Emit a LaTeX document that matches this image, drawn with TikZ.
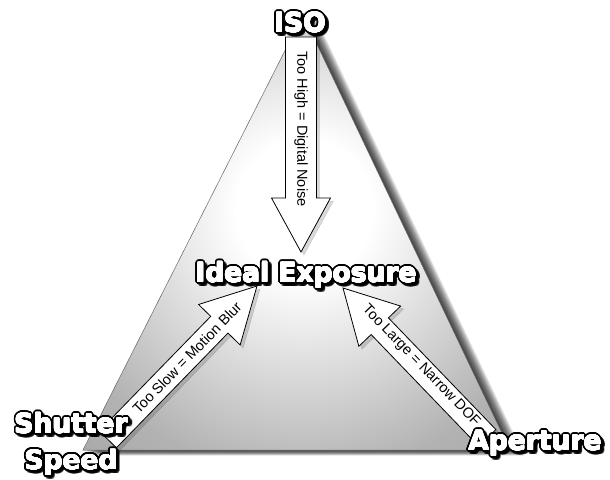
\documentclass[tikz,border=0pt]{standalone}
\usepackage{fontspec}
\setmainfont{Liberation Sans}
\newfontfamily\labfont{DejaVu Sans}
\usepackage{contour}
\usetikzlibrary{calc}
\pgfdeclareradialshading{tri}{\pgfpoint{1bp}{3bp}}{color(0bp)=(white); color(8bp)=(white); color(30bp)=(black!30); color(50bp)=(black!40); color(75bp)=(black!50)}
\newcommand{\outerlab}[1]{\contourlength{2.3pt}\contour[32]{black}{#1}}
\newcommand{\innerlab}[1]{\contourlength{0.45pt}\contour[16]{white}{#1}}
\tikzset{
  arrowbox/.style={fill=white, draw=black, line width=0.8pt, line join=miter},
  arrowshadow/.style={fill=black, opacity=0.15},
  arrowtext/.style={font=\fontsize{14.5}{16}\selectfont, text=black, inner sep=0pt},
  labbase/.style={font=\labfont\bfseries\fontsize{26.5}{30}\selectfont, inner sep=0pt, anchor=base},
  biglabel/.style={labbase, text=white},
  laboutline/.style={labbase, text=black},
  labshadow/.style={labbase, text=black, opacity=0.3},
}
\newcommand{\arrowpoly}[5]{% L, w/2, h, H/2, style
  \draw[#5] (0,0) -- (-#3,#4) -- (-#3,#2) -- (-#1,#2) -- (-#1,-#2) -- (-#3,-#2) -- (-#3,-#4) -- cycle;}
\begin{document}
\begin{tikzpicture}[x=1pt,y=1pt]
\useasboundingbox (0,0) rectangle (610,-479);
\fill[white] (0,0) rectangle (610,-479);
% triangle corners
\coordinate (T) at (303,-15);
\coordinate (L) at (83,-450);
\coordinate (R) at (510,-450);
% soft shadow
\foreach \k in {1,...,16}{
  \fill[black, opacity=0.075] ($(T)+(0.9*\k,-0.35*\k)$) -- ($(R)+(0.9*\k,-0.35*\k)$) -- ($(L)+(0.9*\k,-0.35*\k)$) -- cycle;
}
\shade[shading=tri, draw=black!60, line width=0.5pt] (T) -- (R) -- (L) -- cycle;
% arrow tips
\coordinate (isotip) at (301,-252);
\coordinate (shuttip) at (257,-286);
\coordinate (apetip) at (343,-288);
% arrow shadows
\begin{scope}[shift={($(isotip)+(3,-3)$)}, rotate=-90]\arrowpoly{215}{15.5}{54}{29.5}{arrowshadow}\end{scope}
\begin{scope}[shift={($(shuttip)+(3,-3)$)}, rotate=45.8]\arrowpoly{214}{12}{54}{29}{arrowshadow}\end{scope}
\begin{scope}[shift={($(apetip)+(3,-3)$)}, rotate=133.9]\arrowpoly{208}{12}{53}{29}{arrowshadow}\end{scope}
% arrows
\begin{scope}[shift={(isotip)}, rotate=-90]\arrowpoly{215}{15.5}{54}{29.5}{arrowbox}\end{scope}
\begin{scope}[shift={(shuttip)}, rotate=45.8]\arrowpoly{214}{12}{54}{29}{arrowbox}\end{scope}
\begin{scope}[shift={(apetip)}, rotate=133.9]\arrowpoly{208}{12}{53}{29}{arrowbox}\end{scope}
% arrow texts
\node[arrowtext, rotate=-90] (isotext) at (301,-129) {Too High = Digital Noise};
\node[arrowtext, rotate=45.8] (shuttext) at (187,-358) {Too Slow = Motion Blur};
\node[arrowtext, rotate=-46.1] (apetext) at (421,-366) {Too Large = Narrow DOF};
% label shadows
\node[labshadow] at (302.5,-34.5) {\outerlab{ISO}};
\node[labshadow] at (308.5,-284.5) {\outerlab{Ideal Exposure}};
\node[labshadow] at (73.5,-435.5) {\outerlab{Shutter}};
\node[labshadow] at (73,-471.5) {\outerlab{Speed}};
\node[labshadow] at (537.5,-452.5) {\outerlab{Aperture}};
% label outlines
\node[laboutline] at (300,-32) {\outerlab{ISO}};
\node[laboutline] at (306,-282) {\outerlab{Ideal Exposure}};
\node[laboutline] at (71,-433) {\outerlab{Shutter}};
\node[laboutline] at (71,-469.5) {\outerlab{Speed}};
\node[laboutline] at (535,-450) {\outerlab{Aperture}};
% labels
\node[biglabel] (iso) at (300,-32) {\innerlab{ISO}};
\node[biglabel] (ideal) at (306,-282) {\innerlab{Ideal Exposure}};
\node[biglabel] (shutter) at (71,-433) {\innerlab{Shutter}};
\node[biglabel] (speed) at (71,-469.5) {\innerlab{Speed}};
\node[biglabel] (aperture) at (535,-450) {\innerlab{Aperture}};
\end{tikzpicture}
\end{document}
